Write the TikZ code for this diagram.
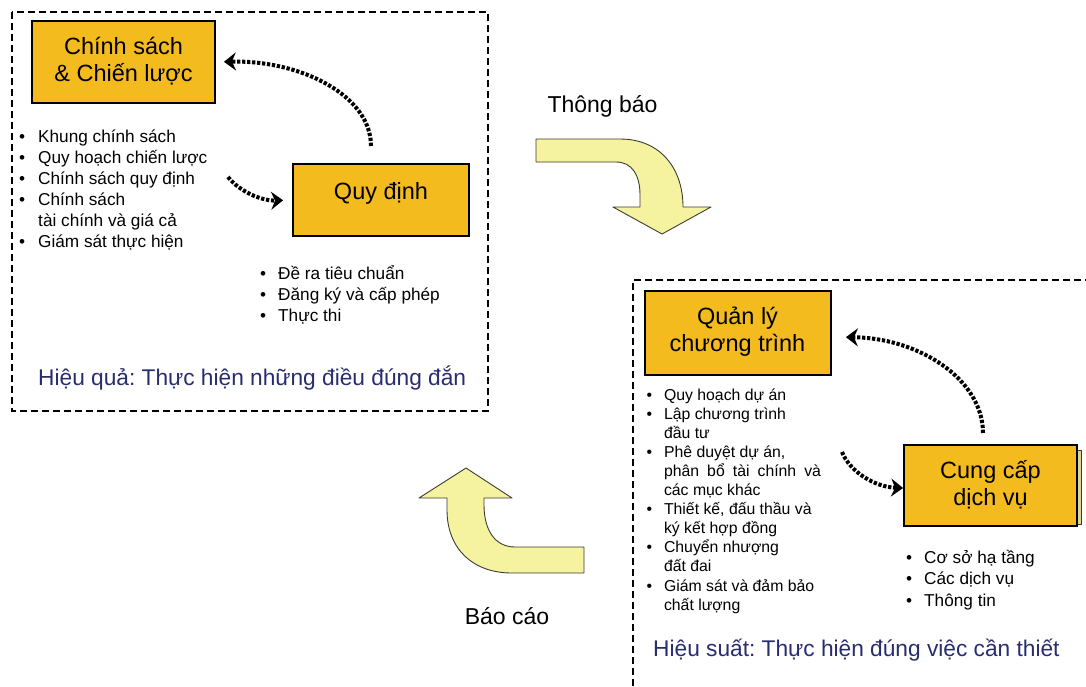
\documentclass[tikz,border=0pt]{standalone}
\usepackage{fontspec}
\setmainfont{Liberation Sans}
\usetikzlibrary{arrows.meta}
\definecolor{boxfill}{RGB}{244,187,30}
\definecolor{bendfill}{RGB}{245,242,160}
\definecolor{bendline}{RGB}{60,60,50}
\definecolor{navy}{RGB}{40,45,110}
\definecolor{sheet}{RGB}{222,212,150}
\frenchspacing
\tikzset{
  mainbox/.style={draw=black, line width=1.8pt, fill=boxfill, inner sep=0pt},
  boxtitle/.style={inner sep=0pt, anchor=base, font=\fontsize{23.5}{27.5}\selectfont},
  listtext/.style={inner sep=0pt, anchor=base west},
  frame/.style={line width=2.2pt, dash pattern=on 7pt off 4pt},
  dotarrow/.style={line width=4pt, dash pattern=on 3.3pt off 1.7pt,
    -{Stealth[length=12pt,width=18pt,inset=4pt]}},
  bent/.style={fill=bendfill, draw=bendline, line width=0.9pt, line join=round},
  flowlabel/.style={inner sep=0pt, anchor=base, font=\fontsize{23}{27}\selectfont},
  motto/.style={inner sep=0pt, anchor=base west, text=navy, font=\fontsize{22.7}{26}\selectfont}
}
\begin{document}
\begin{tikzpicture}[x=1pt,y=-1pt]
\useasboundingbox (0,0) rectangle (1086,686);
\clip (0,0) rectangle (1086,686);

% dashed frames of the two groups
\draw[frame] (12,12) rectangle (488,411);
\draw[frame] (1092,280) -- (633,280) -- (633,692);

% --- policy group ---
\node[mainbox, minimum width=183pt, minimum height=82pt] (cs) at (123.5,62) {};
\node[boxtitle] (cstitle) at (123.5,54.3)
  {\begin{tabular}[t]{@{}c@{}}Chính sách\\\& Chiến lược\end{tabular}};
\node[mainbox, minimum width=176pt, minimum height=72pt] (qd) at (381,200) {};
\node[boxtitle] (qdtitle) at (381,199.5) {Quy định};

\node[listtext, font=\fontsize{17.2}{21}\selectfont] (cslist) at (19,142)
  {\begin{tabular}[t]{@{}l@{\hspace{13pt}}l@{}}
   \textbullet & Khung chính sách\\
   \textbullet & Quy hoạch chiến lược\\
   \textbullet & Chính sách quy định\\
   \textbullet & Chính sách\\
               & tài chính và giá cả\\
   \textbullet & Giám sát thực hiện
   \end{tabular}};
\node[listtext, font=\fontsize{17.2}{21}\selectfont] (qdlist) at (260,279)
  {\begin{tabular}[t]{@{}l@{\hspace{12pt}}l@{}}
   \textbullet & Đề ra tiêu chuẩn\\
   \textbullet & Đăng ký và cấp phép\\
   \textbullet & Thực thi
   \end{tabular}};
\node[motto] (effect) at (38,385) {Hiệu quả: Thực hiện những điều đúng đắn};

\coordinate (qdup) at (371,146);
\coordinate (csdown) at (228,177);
\draw[dotarrow, shorten >=8pt] (qdup) .. controls (371,95) and (300,60) .. (cs.east);
\draw[dotarrow, shorten >=9pt] (csdown) .. controls (240,192) and (262,201) .. (qd.west);

% --- delivery group ---
\node[mainbox, minimum width=186pt, minimum height=84pt] (ql) at (738,333) {};
\node[boxtitle] (qltitle) at (737.5,324)
  {\begin{tabular}[t]{@{}c@{}}Quản lý\\chương trình\end{tabular}};
\fill[sheet, draw=bendline, line width=0.6pt] (1077,450) rectangle (1081,524);
\node[mainbox, minimum width=173pt, minimum height=81pt] (cc) at (990.5,485.5) {};
\node[boxtitle] (cctitle) at (990.5,478.3)
  {\begin{tabular}[t]{@{}c@{}}Cung cấp\\dịch vụ\end{tabular}};

\node[listtext, font=\fontsize{15.8}{19.1}\selectfont] (qllist) at (646.3,400)
  {\begin{tabular}[t]{@{}l@{\hspace{12pt}}l@{}}
   \textbullet & Quy hoạch dự án\\
   \textbullet & Lập chương trình\\
               & đầu tư\\
   \textbullet & Phê duyệt dự án,\\
               & \makebox[157pt][s]{phân bổ tài chính và}\\
               & các mục khác\\
   \textbullet & Thiết kế, đấu thầu và\\
               & ký kết hợp đồng\\
   \textbullet & Chuyển nhượng\\
               & đất đai\\
   \textbullet & Giám sát và đảm bảo\\
               & chất lượng
   \end{tabular}};
\node[listtext, font=\fontsize{17.2}{21.5}\selectfont] (cclist) at (906,563)
  {\begin{tabular}[t]{@{}l@{\hspace{12pt}}l@{}}
   \textbullet & Cơ sở hạ tầng\\
   \textbullet & Các dịch vụ\\
   \textbullet & Thông tin
   \end{tabular}};
\node[motto] (efficiency) at (653,656.5) {Hiệu suất: Thực hiện đúng việc cần thiết};

\coordinate (ccup) at (983,433);
\coordinate (qldown) at (842,452);
\draw[dotarrow, shorten >=14pt] (ccup) .. controls (983,380) and (920,338) .. ([yshift=-4pt]ql.east);
\draw[dotarrow] (qldown) .. controls (850,472) and (875,487) .. ([yshift=-2.5pt]cc.west);

% --- flows between the groups ---
\node[flowlabel] (notify) at (602.5,112.5) {Thông báo};
\draw[bent] (536,139) -- (620,139) .. controls (660,139) and (683,168) .. (683,207)
  -- (711,207) -- (662,234) -- (613,207) -- (640,207) -- (640,195)
  .. controls (640,175) and (632,162) .. (616,162) -- (536,162) -- cycle;

\node[flowlabel] (report) at (507,624) {Báo cáo};
\draw[bent] (584,547) -- (584,573) -- (512,573) .. controls (472,573) and (447,548) .. (447,510)
  -- (447,498) -- (419,498) -- (466,468) -- (512,498) -- (484,498) -- (484,505)
  .. controls (484,530) and (495,547) .. (515,547) -- cycle;
\end{tikzpicture}
\end{document}
